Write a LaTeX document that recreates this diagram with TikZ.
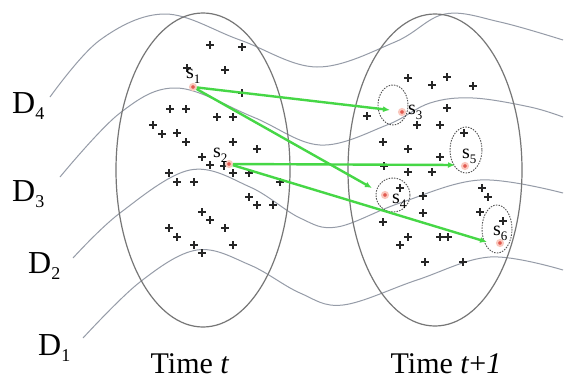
\documentclass[tikz,border=0pt]{standalone}
\usepackage{fontspec}
\setmainfont{Liberation Serif}
\usetikzlibrary{arrows.meta}
\definecolor{curvec}{RGB}{150,156,168}
\definecolor{ellc}{RGB}{118,118,118}
\definecolor{garr}{RGB}{70,215,70}
\definecolor{redpt}{RGB}{225,90,80}
\definecolor{halo}{RGB}{250,200,190}
\begin{document}
\begin{tikzpicture}[x=1pt,y=-1pt,
  dcurve/.style={draw=curvec, line width=1pt},
  bigell/.style={draw=ellc, line width=1.2pt},
  smell/.style={draw=ellc!70!black, dash pattern=on 1.5pt off 1.2pt, line width=0.9pt},
  garrow/.style={draw=garr, line width=2.4pt, -{Latex[length=7pt,width=6pt]}},
  spt/.style={circle, fill=redpt, draw=halo, line width=2pt, minimum size=6pt, inner sep=0pt},
  dlab/.style={font=\fontsize{32}{32}\selectfont, anchor=base west, inner sep=0pt},
  slab/.style={font=\fontsize{20}{20}\selectfont, anchor=base west, inner sep=0pt},
  tlab/.style={font=\fontsize{30}{30}\selectfont, anchor=base, inner sep=0pt},
  pm/.pic={\draw[line width=1.8pt, black!85] (-3.6,0)--(3.6,0) (0,-3.6)--(0,3.6);}
]
\useasboundingbox (0,0) rectangle (566,383);
\fill[white] (0,0) rectangle (566,383);

% D curves
\draw[dcurve] plot[smooth, tension=0.6] coordinates {(50,97) (100,40) (165,14) (240,40) (317,67) (395,42) (445,14) (500,22) (563,40)};
\draw[dcurve] plot[smooth, tension=0.6] coordinates {(60,177) (120,113) (177,88) (253,117) (320,145) (387,125) (430,103) (473,98) (530,107) (563,117)};
\draw[dcurve] plot[smooth, tension=0.6] coordinates {(73,258) (120,213) (190,170) (250,187) (300,218) (337,227) (400,203) (480,180) (563,193)};
\draw[dcurve] plot[smooth, tension=0.6] coordinates {(83,338) (140,282) (197,250) (250,265) (300,293) (343,305) (417,280) (490,257) (563,270)};

% big ellipses
\draw[bigell] (203,170) ellipse [x radius=87, y radius=157];
\draw[bigell] (435,170) ellipse [x radius=87, y radius=156];

% dashed small ellipses
\draw[smell] (393,105) ellipse [x radius=15, y radius=20];
\draw[smell] (466,150) ellipse [x radius=16, y radius=23];
\draw[smell] (393,195) ellipse [x radius=17, y radius=17];
\draw[smell] (497,229) ellipse [x radius=15, y radius=24];

% plus marks
\foreach \p in {(210,45),(242,47),(225,70),(187,68),(242,93),(170,109),(186,109),(217,117),(233,117),
  (153,125),(162,134),(177,133),(186,142),(233,142),(257,149),(202,157),(210,165),(224,166),
  (233,173),(249,173),(280,182),(169,173),(177,182),(194,182),(249,197),(257,205),(273,205),
  (202,212),(210,220),(225,228),(169,228),(177,237),(194,245),(202,253),(233,245),
  (408,78),(432,85),(447,77),(473,86),(367,116),(447,108),(417,125),(440,125),(383,142),(408,149),
  (440,157),(464,133),(384,166),(408,172),(432,172),(400,188),(423,196),(482,188),(488,197),(423,213),
  (383,222),(408,237),(400,245),(440,237),(448,237),(425,262),(463,262),(480,212),(503,221)}
  \pic at \p {pm};

% points
\node[spt] (s1) at (193,87) {};
\node[spt] (s2) at (229,164) {};
\node[spt] (s3) at (402,112) {};
\node[spt] (s4) at (385,195) {};
\node[spt] (s5) at (465,166) {};
\node[spt] (s6) at (500,243) {};
\coordinate (t3) at (390,110);
\coordinate (t4) at (372,188);
\coordinate (t5) at (455,165);
\coordinate (t6) at (487,242);

% arrows
\draw[garrow] (s1) -- (t3);
\draw[garrow] (s1) -- (t4);
\draw[garrow] (s2) -- (t5);
\draw[garrow] (s2) -- (t6);

% s labels
\node[slab] (l1) at (186,78) {s\raisebox{-5pt}{\fontsize{13}{13}\selectfont 1}};
\node[slab] (l2) at (213,157) {s\raisebox{-5pt}{\fontsize{13}{13}\selectfont 2}};
\node[slab] (l3) at (408,114) {s\raisebox{-5pt}{\fontsize{13}{13}\selectfont 3}};
\node[slab] (l4) at (392,203) {s\raisebox{-5pt}{\fontsize{13}{13}\selectfont 4}};
\node[slab] (l5) at (462,158) {s\raisebox{-5pt}{\fontsize{13}{13}\selectfont 5}};
\node[slab] (l6) at (493,235) {s\raisebox{-5pt}{\fontsize{13}{13}\selectfont 6}};

% D labels
\node[dlab] (d4) at (12,113) {D\raisebox{-6pt}{\fontsize{18}{18}\selectfont 4}};
\node[dlab] (d3) at (12,201) {D\raisebox{-6pt}{\fontsize{18}{18}\selectfont 3}};
\node[dlab] (d2) at (28,273) {D\raisebox{-6pt}{\fontsize{18}{18}\selectfont 2}};
\node[dlab] (d1) at (38,355) {D\raisebox{-6pt}{\fontsize{18}{18}\selectfont 1}};

% time labels
\node[tlab] (tt) at (190,373) {Time \textit{t}};
\node[tlab] (tt1) at (446,373) {Time \textit{t}+\textit{1}};
\end{tikzpicture}
\end{document}
